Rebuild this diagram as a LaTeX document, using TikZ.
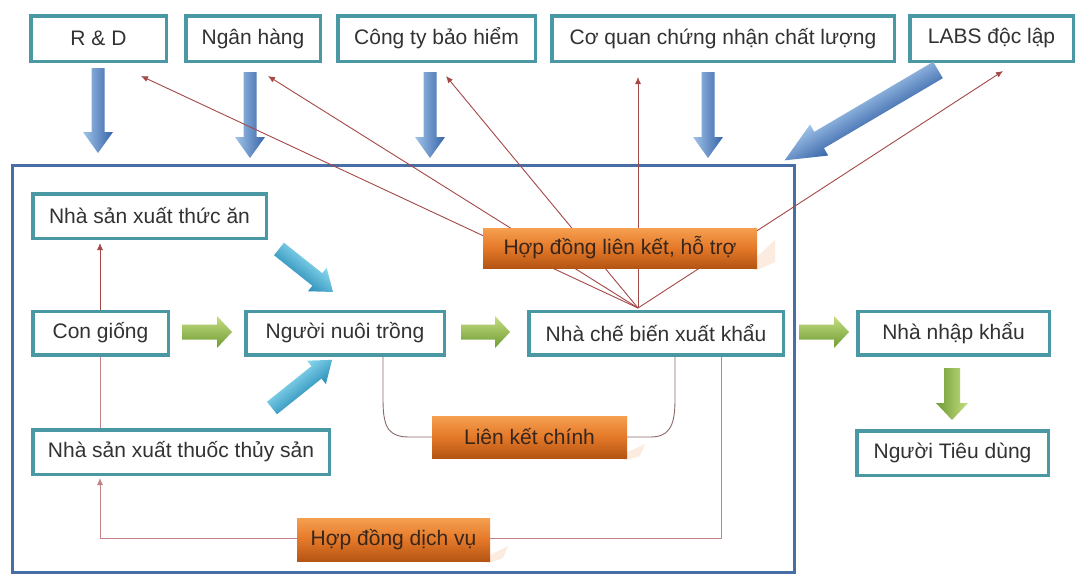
\documentclass[tikz,border=0pt]{standalone}
\usepackage{fontspec}
\setmainfont{Liberation Sans}
\usetikzlibrary{arrows.meta,calc}
\definecolor{tealb}{RGB}{74,152,164}
\definecolor{txt}{RGB}{50,50,50}
\definecolor{otxt}{RGB}{55,38,28}
\definecolor{contb}{RGB}{72,110,165}
\definecolor{redl}{RGB}{165,72,72}
\definecolor{redm}{RGB}{140,105,105}
\definecolor{redp}{RGB}{195,130,135}
\definecolor{orL}{RGB}{245,160,80}
\definecolor{orM}{RGB}{228,120,40}
\definecolor{orD}{RGB}{180,85,20}
\definecolor{orS}{RGB}{250,228,210}
\definecolor{blL}{RGB}{160,195,232}
\definecolor{blD}{RGB}{55,100,168}
\definecolor{grL}{RGB}{198,222,130}
\definecolor{grD}{RGB}{110,155,50}
\definecolor{cyL}{RGB}{140,218,240}
\definecolor{cyD}{RGB}{40,140,182}
\newcommand{\blockarr}[8]{%
  \begin{scope}[transform canvas={shift={(#2,#3)},rotate=#4}]
    \path[#1] (0,-#6) -- ({#5-#8},-#6) -- ({#5-#8},-#7) -- (#5,0) -- ({#5-#8},#7) -- ({#5-#8},#6) -- (0,#6) -- cycle;
  \end{scope}}
\tikzset{
  box/.style={draw=tealb, line width=3.5pt, fill=white, text=txt, inner sep=0pt,
    font=\fontsize{21}{25}\selectfont},
  obox/.style={top color=orL, bottom color=orD, middle color=orM, text=otxt, inner sep=0pt,
    font=\fontsize{21}{25}\selectfont},
  oshadow/.style={fill=orS, draw=none},
  rline/.style={draw=redl, line width=0.9pt},
  mline/.style={draw=redm, line width=0.9pt},
  pline/.style={draw=redp, line width=0.9pt},
  tipr/.style={-{Latex[length=7pt,width=6pt]}},
  bluearr/.style={top color=blD, bottom color=blL, draw=none},
  greenarr/.style={top color=grL, bottom color=grD, draw=none},
  cyanarr/.style={top color=cyL, bottom color=cyD, draw=none},
}
\begin{document}
\begin{tikzpicture}[x=1pt,y=-1pt]
\fill[white] (0,0) rectangle (1078,574);
\useasboundingbox (0,0) rectangle (1078,574);

% container
\node[draw=contb, line width=3pt, minimum width=782pt, minimum height=407pt, inner sep=0pt] (frame) at (403,368.5) {};

% top boxes
\node[box, minimum width=135.5pt, minimum height=45.5pt] (rd) at (98.5,38.5) {R \& D};
\node[box, minimum width=134.5pt, minimum height=45.5pt] (nh) at (253,38.5) {Ngân hàng};
\node[box, minimum width=197.5pt, minimum height=45.5pt] (bh) at (436.5,38.5) {Công ty bảo hiểm};
\node[box, minimum width=342.5pt, minimum height=45.5pt] (cq) at (723,38.5) {Cơ quan chứng nhận chất lượng};
\node[box, minimum width=163.5pt, minimum height=45.5pt] (labs) at (991.5,38.5) {LABS độc lập};

% inner boxes
\node[box, minimum width=233.5pt, minimum height=44.5pt] (ta) at (149.5,216) {Nhà sản xuất thức ăn};
\node[box, minimum width=135.5pt, minimum height=43.5pt] (cg) at (100.5,333) {Con giống};
\node[box, minimum width=198.5pt, minimum height=43.5pt] (nt) at (345,333) {Người nuôi trồng};
\node[box, minimum width=254.5pt, minimum height=43.5pt] (cb) at (656,333) {Nhà chế biến xuất khẩu};
\node[box, minimum width=191.5pt, minimum height=43.5pt] (nk) at (953.5,333) {Nhà nhập khẩu};
\node[box, minimum width=191.5pt, minimum height=44.5pt] (td) at (952.5,453) {Người Tiêu dùng};
\node[box, minimum width=296.5pt, minimum height=44.5pt] (th) at (181,452) {Nhà sản xuất thuốc thủy sản};

% block arrows
\blockarr{bluearr}{98}{68}{-90}{85}{6.5}{15}{21}
\blockarr{bluearr}{250}{72}{-90}{86}{6.5}{15}{21}
\blockarr{bluearr}{430}{72}{-90}{86}{6.5}{15}{21}
\blockarr{bluearr}{708}{72}{-90}{86}{6.5}{15}{21}
\blockarr{bluearr}{938}{70}{-149.5}{178}{9.5}{18}{40}
\blockarr{greenarr}{182}{332}{0}{50}{7.5}{16}{15}
\blockarr{greenarr}{461}{332}{0}{49}{7.5}{16}{15}
\blockarr{greenarr}{799}{332}{0}{50}{7.5}{16}{15}
\blockarr{greenarr}{952}{368}{-90}{52}{8}{16}{17}
\blockarr{cyanarr}{279}{249}{-38.5}{69}{8}{15}{20}
\blockarr{cyanarr}{272}{408}{38.7}{77}{8}{15}{20}

% red connectors
\coordinate (cv) at (638,308);
\coordinate (e1) at (141,76);
\coordinate (e2) at (268,76);
\coordinate (e3) at (446,76);
\coordinate (e4) at (638,77);
\coordinate (e5) at (1003,71);
\draw[rline,tipr] (cv) -- (e1);
\draw[rline,tipr] (cv) -- (e2);
\draw[rline,tipr] (cv) -- (e3);
\draw[rline,tipr] (cv) -- (e4);
\draw[rline,tipr] (cv) -- (e5);

\draw[rline,tipr] (cg.north -| 100,0) -- ($(ta.south -| 100,0)+(0,3)$);
\draw[pline] (cg.south -| 100,0) -- (th.north -| 100,0);

\coordinate (dvr) at (721,538);
\coordinate (dvl) at (100,538);
\draw[pline,tipr] (cb.south -| dvr) -- (dvr) -- (dvl) -- ($(th.south -| dvl)+(0,2)$);

\coordinate (lkl) at (383,400);
\coordinate (lkr) at (675,400);
\draw[mline] (nt.south -| lkl) -- (lkl) .. controls (383,430) and (390,437) .. (410,437)
  -- (650,437) .. controls (668,437) and (675,428) .. (lkr) -- (cb.south -| lkr);

% pale reflections under the orange boxes
\fill[oshadow, opacity=0.7] (745,268) -- (775,240) -- (775,262) -- (757,270) -- cycle;
\fill[oshadow, opacity=0.7] (615,458) -- (645,444) -- (640,456) -- (627,460) -- cycle;
\fill[oshadow, opacity=0.7] (478,561) -- (508,546) -- (503,558) -- (490,563) -- cycle;

% orange boxes
\node[obox, minimum width=274pt, minimum height=40pt] (hd) at (620,248) {Hợp đồng liên kết, hỗ trợ};
\node[obox, minimum width=195pt, minimum height=42pt] (lk) at (529.5,437) {Liên kết chính};
\node[obox, minimum width=193pt, minimum height=43pt] (dv) at (393.5,539.5) {Hợp đồng dịch vụ};
\end{tikzpicture}
\end{document}
